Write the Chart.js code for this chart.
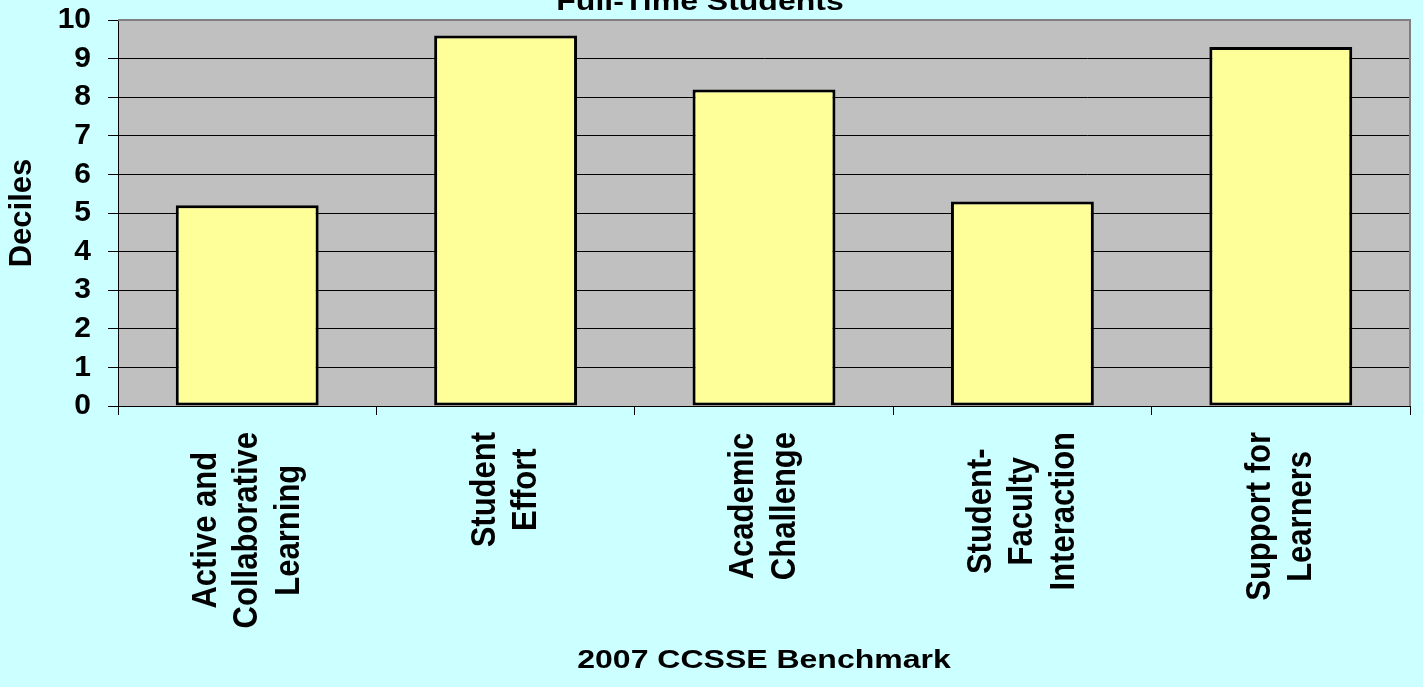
<!DOCTYPE html>
<html>
<head>
<meta charset="utf-8">
<script src="https://cdn.jsdelivr.net/npm/chart.js@4.4.0/dist/chart.umd.min.js"></script>
<style>
    html, body { margin: 0; padding: 0; background: #CCFFFF; }
    #wrap { width: 1423px; height: 687px; }
</style>
</head>
<body>
<div id="wrap"><canvas id="myChart" width="1423" height="687"></canvas></div>
<script>
// Chart texts
const chartTitle = 'Full-Time Students';
const xAxisTitle = '2007 CCSSE Benchmark';
const yAxisTitle = 'Deciles';

// Categories (one entry per line of the label) and values
const categories = [
    ['Active and', 'Collaborative', 'Learning'],
    ['Student', 'Effort'],
    ['Academic', 'Challenge'],
    ['Student-', 'Faculty', 'Interaction'],
    ['Support for', 'Learners']
];
const deciles = [5.2, 9.6, 8.2, 5.3, 9.3];
const yMin = 0;
const yMax = 10;
const yStep = 1;

const fontFamily = '"Liberation Sans", Arial, sans-serif';
Chart.defaults.font.family = fontFamily;
Chart.defaults.color = '#000';

// Draws background, plot area, gray frame and the stretched texts
const excelLook = {
    id: 'excelLook',
    beforeDraw: (chart) => {
        const { ctx, chartArea: a } = chart;
        ctx.save();
        ctx.fillStyle = '#CCFFFF';
        ctx.fillRect(0, 0, chart.width, chart.height);
        ctx.fillStyle = '#C0C0C0';
        ctx.fillRect(a.left, a.top, a.right - a.left, a.bottom - a.top);
        ctx.restore();
    },
    afterDraw: (chart) => {
        const { ctx, chartArea: a } = chart;
        const xScale = chart.scales.x;
        ctx.save();

        // gray frame on top and right
        ctx.strokeStyle = '#808080';
        ctx.lineWidth = 2;
        ctx.beginPath();
        ctx.moveTo(a.left, a.top);
        ctx.lineTo(a.right, a.top);
        ctx.lineTo(a.right, a.bottom);
        ctx.stroke();

        ctx.fillStyle = '#000';

        // chart title (cut at top edge)
        ctx.font = 'bold 25px ' + fontFamily;
        ctx.textAlign = 'center';
        ctx.textBaseline = 'alphabetic';
        ctx.save();
        ctx.translate(700, 10);
        ctx.scale(1.28, 1);
        ctx.fillText(chartTitle, 0, 0);
        ctx.restore();

        // x axis title
        ctx.save();
        ctx.translate((a.left + a.right) / 2, 668);
        ctx.scale(1.28, 1);
        ctx.fillText(xAxisTitle, 0, 0);
        ctx.restore();

        // rotated category labels, lines centred in a block hanging from the axis
        ctx.font = 'bold 31px ' + fontFamily;
        const labelTop = a.bottom + 26;
        const lineGap = 41.5;
        categories.forEach((lines, i) => {
            const cx = xScale.getPixelForValue(i);
            const maxW = Math.max(...lines.map(l => ctx.measureText(l).width));
            const cy = labelTop + maxW / 2;
            lines.forEach((line, j) => {
                const lx = cx + (j - (lines.length - 1) / 2) * lineGap;
                ctx.save();
                ctx.translate(lx, cy);
                ctx.scale(1.15, 1);
                ctx.rotate(-Math.PI / 2);
                ctx.textAlign = 'center';
                ctx.textBaseline = 'middle';
                ctx.fillText(line, 0, 0);
                ctx.restore();
            });
        });

        ctx.restore();
    }
};

const ctx = document.getElementById('myChart').getContext('2d');
const myChart = new Chart(ctx, {
    type: 'bar',
    data: {
        labels: categories.map(c => c.join(' ')),
        datasets: [{
            data: deciles,
            backgroundColor: '#FFFF99',
            borderColor: '#000',
            borderWidth: 3,
            borderSkipped: false,
            barPercentage: 0.553,
            categoryPercentage: 1
        }]
    },
    options: {
        responsive: false,
        animation: false,
        devicePixelRatio: 1,
        layout: { padding: { top: 20, right: 13, left: 0, bottom: 0 } },
        plugins: {
            legend: { display: false },
            tooltip: { enabled: false },
            title: { display: false }
        },
        scales: {
            x: {
                grid: {
                    display: true,
                    drawOnChartArea: false,
                    drawTicks: true,
                    tickLength: 9,
                    color: '#000',
                    offset: true
                },
                border: { color: '#000', width: 1 },
                ticks: { display: false },
                afterFit: (scale) => {
                    scale.height = 281;
                    scale.paddingLeft = 0;
                    scale.paddingRight = 0;
                }
            },
            y: {
                min: yMin,
                max: yMax,
                ticks: {
                    stepSize: yStep,
                    autoSkip: false,
                    color: '#000',
                    padding: 17,
                    font: { size: 30, weight: 'bold' }
                },
                grid: { color: '#000', lineWidth: 1, tickLength: 10 },
                border: { color: '#000', width: 1 },
                title: {
                    display: true,
                    text: yAxisTitle,
                    color: '#000',
                    font: { size: 31, weight: 'bold' },
                    padding: { top: 4, bottom: 0 }
                },
                afterFit: (scale) => {
                    scale.width = 118;
                    scale.paddingTop = 0;
                    scale.paddingBottom = 0;
                }
            }
        }
    },
    plugins: [excelLook]
});
</script>
</body>
</html>
